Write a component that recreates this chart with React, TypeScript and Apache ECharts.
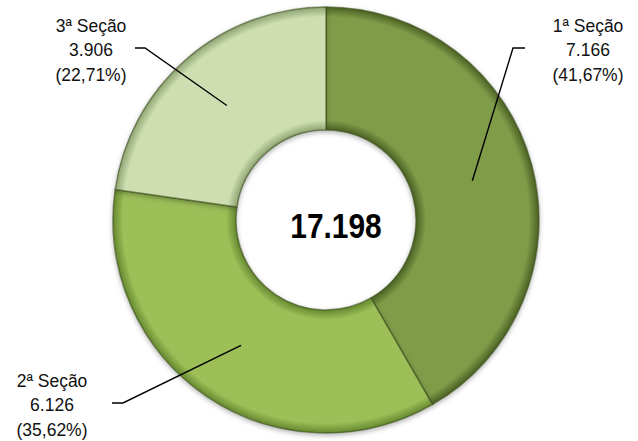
import React, { useEffect, useRef } from 'react';
import * as echarts from 'echarts';

const categories = ['1ª Seção', '2ª Seção', '3ª Seção'];
const values = [7166, 6126, 3906];
const baseColors = ['#7f9c49', '#9cbf58', '#cedeb1'];
const rimColors = ['#4a6022', '#66882f', '#8ea372'];
const labelPositions = [[588, 50], [52, 405], [91, 50]];
const labelElbows = [[[513, 48], [525, 48]], [[123, 403], [112, 403]], [[145, 48], [135, 48]]];

const CX = 326;
const CY = 220;
const R_IN = 90;
const R_OUT = 213;
const R_MID = (R_IN + R_OUT) / 2;

function fmtInt(n: number): string {
  return String(n).replace(/\B(?=(\d{3})+(?!\d))/g, '.');
}

export default function App() {
  const ref = useRef<HTMLDivElement>(null);
  useEffect(() => {
    if (!ref.current) return;
    const chart = echarts.init(ref.current, null, { renderer: 'svg' });
    const total = values.reduce((a, b) => a + b, 0);
    const mids: number[] = [];
    let cum = 0;
    values.forEach((v) => {
      mids.push((cum + v / 2) / total);
      cum += v;
    });
    const grad = (i: number) =>
      new echarts.graphic.RadialGradient(
        CX,
        CY,
        R_OUT,
        [
          { offset: 0, color: rimColors[i] },
          { offset: R_IN / R_OUT, color: rimColors[i] },
          { offset: (R_IN + 10) / R_OUT, color: baseColors[i] },
          { offset: (R_OUT - 10) / R_OUT, color: baseColors[i] },
          { offset: 1, color: rimColors[i] },
        ],
        true
      );
    const font = '"Liberation Sans", Arial, sans-serif';
    chart.setOption({
      animation: false,
      backgroundColor: '#ffffff',
      series: [
        {
          type: 'pie',
          z: 1,
          center: [CX, CY],
          radius: [R_IN, R_OUT],
          startAngle: 90,
          clockwise: true,
          silent: true,
          avoidLabelOverlap: false,
          label: { show: false },
          labelLine: { show: false },
          itemStyle: {
            borderColor: 'rgba(60,80,30,0.6)',
            borderWidth: 1.5,
            shadowBlur: 5,
            shadowColor: 'rgba(0,0,0,0.3)',
            shadowOffsetY: 2,
          },
          data: categories.map((c, i) => ({
            name: c,
            value: values[i],
            itemStyle: { color: grad(i) },
          })),
        },
        {
          type: 'pie',
          z: 5,
          center: [CX, CY],
          radius: [0, R_MID],
          startAngle: 90,
          clockwise: true,
          silent: true,
          avoidLabelOverlap: false,
          itemStyle: { color: 'rgba(0,0,0,0)' },
          label: {
            show: true,
            position: 'outside',
            fontFamily: font,
            fontSize: 17.5,
            lineHeight: 24.5,
            color: '#111',
            formatter: (p: any) =>
              `${p.name}\n${fmtInt(p.value)}\n(${((p.value / total) * 100).toFixed(2).replace('.', ',')}%)`,
          },
          labelLine: { show: true, length: 10, length2: 10, lineStyle: { color: '#000', width: 1.4 } },
          labelLayout: (params: any) => {
            const i = params.dataIndex;
            const a = Math.PI / 2 - mids[i] * 2 * Math.PI;
            const start = [CX + R_MID * Math.cos(a), CY - R_MID * Math.sin(a)];
            return {
              x: labelPositions[i][0],
              y: labelPositions[i][1],
              align: 'center',
              verticalAlign: 'middle',
              labelLinePoints: [start, labelElbows[i][0], labelElbows[i][1]],
            };
          },
          data: categories.map((c, i) => ({ name: c, value: values[i] })),
        },
      ],
      graphic: [
        {
          type: 'text',
          x: 336,
          y: 225,
          scaleX: 0.83,
          z: 10,
          style: {
            text: fmtInt(total),
            font: 'bold 36px "Liberation Sans", Arial, sans-serif',
            fill: '#000',
            textAlign: 'center',
            textVerticalAlign: 'middle',
          },
        },
      ],
    });
    return () => chart.dispose();
  }, []);
  return (
    <div
      ref={ref}
      style={{ position: 'fixed', left: 0, top: 0, width: 638, height: 441 }}
    />
  );
}
